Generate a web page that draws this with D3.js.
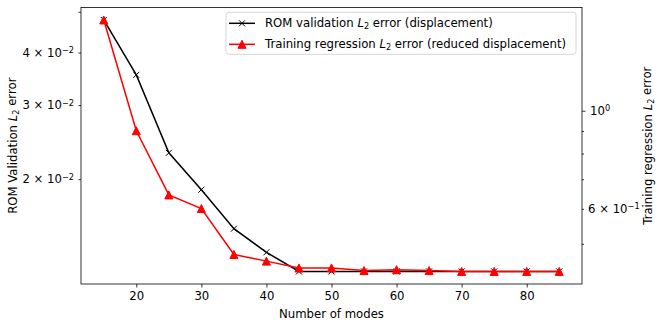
<!DOCTYPE html>
<html>
<head>
<meta charset="utf-8">
<script src="https://cdn.jsdelivr.net/npm/d3@7"></script>
<style>
  body { margin: 0; background: #fff; }
  text { font-family: "DejaVu Sans", sans-serif; fill: #000; }
</style>
</head>
<body>
<div id="chart"></div>
<script>
// Data
var modes = [15, 20, 25, 30, 35, 40, 45, 50, 55, 60, 65, 70, 75, 80, 85];
var romError = [0.0478, 0.0354, 0.0231, 0.01888, 0.01525, 0.0134, 0.01207, 0.01207, 0.01207, 0.01207, 0.01207, 0.01207, 0.01207, 0.01207, 0.01207];
var trainError = [1.604, 0.901, 0.645, 0.601, 0.473, 0.457, 0.441, 0.441, 0.435, 0.437, 0.435, 0.4331, 0.4331, 0.4331, 0.4331];

var xTicks = [20, 30, 40, 50, 60, 70, 80];
var leftTicks = [0.02, 0.03, 0.04, 0.05];
var leftLabels = [["2", "\u22122"], ["3", "\u22122"], ["4", "\u22122"], null];
var rightTicks = [0.5, 0.6, 0.7, 0.8, 0.9, 1.0];
var rightLabels = [null, ["6 \u00d7 10", "\u22121"], null, null, null, ["10", "0"]];

// SVG area
var svgWidth = 665;
var svgHeight = 329;

var margin = { top: 7.4, right: 83, bottom: 45, left: 81 };

var chartWidth = svgWidth - margin.left - margin.right;
var chartHeight = svgHeight - margin.top - margin.bottom;

var svg = d3.select("#chart")
  .append("svg")
  .attr("width", svgWidth)
  .attr("height", svgHeight);

var chartGroup = svg.append("g")
  .attr("transform", `translate(${margin.left}, ${margin.top})`);

// scales (5% padding like matplotlib autoscale)
var xPad = (d3.max(modes) - d3.min(modes)) * 0.05;
var xScale = d3.scaleLinear()
  .domain([d3.min(modes) - xPad, d3.max(modes) + xPad])
  .range([0, chartWidth]);

function logDomain(vals) {
  var lo = d3.min(vals), hi = d3.max(vals);
  var pad = Math.pow(hi / lo, 0.05);
  return [lo / pad, hi * pad];
}

var yLeft = d3.scaleLog().domain(logDomain(romError)).range([chartHeight, 0]);
var yRight = d3.scaleLog().domain(logDomain(trainError)).range([chartHeight, 0]);

var fontSize = 11.7;

// x axis
var xAxis = chartGroup.append("g")
  .attr("transform", `translate(0, ${chartHeight})`)
  .call(d3.axisBottom(xScale).tickValues(xTicks).tickSize(3.5).tickPadding(4));
xAxis.selectAll("text").style("font-size", fontSize + "px");

// left axis
var leftAxis = chartGroup.append("g")
  .call(d3.axisLeft(yLeft).tickValues(leftTicks).tickSize(2.5).tickFormat(() => ""));

leftAxis.selectAll(".tick").each(function(d, i) {
  var lab = leftLabels[i];
  if (!lab) return;
  var t = d3.select(this).append("text")
    .attr("x", -7)
    .attr("dy", "0.32em")
    .attr("text-anchor", "end")
    .style("font-size", fontSize + "px");
  t.append("tspan").text(lab[0] + " \u00d7 10");
  t.append("tspan").attr("dy", "-0.45em").style("font-size", (fontSize * 0.7) + "px").text(lab[1]);
});

// right axis
var rightAxis = chartGroup.append("g")
  .attr("transform", `translate(${chartWidth}, 0)`)
  .call(d3.axisRight(yRight).tickValues(rightTicks).tickSize(2).tickFormat(() => ""));

rightAxis.selectAll(".tick").each(function(d, i) {
  var lab = rightLabels[i];
  if (d === 1) d3.select(this).select("line").attr("x2", 3.5);
  if (!lab) return;
  var t = d3.select(this).append("text")
    .attr("x", d === 1 ? 8 : 6)
    .attr("dy", "0.32em")
    .attr("text-anchor", "start")
    .style("font-size", fontSize + "px");
  t.append("tspan").text(lab[0]);
  t.append("tspan").attr("dy", "-0.45em").style("font-size", (fontSize * 0.7) + "px").text(lab[1]);
});

svg.selectAll(".domain").remove();
svg.selectAll(".tick line").attr("stroke", "#000").attr("stroke-width", 0.8);

// frame
chartGroup.append("rect")
  .attr("width", chartWidth)
  .attr("height", chartHeight)
  .attr("fill", "none")
  .attr("stroke", "#000")
  .attr("stroke-width", 0.8);

// lines
var romLine = d3.line().x((d, i) => xScale(modes[i])).y(d => yLeft(d));
var trainLine = d3.line().x((d, i) => xScale(modes[i])).y(d => yRight(d));

chartGroup.append("path")
  .datum(romError)
  .attr("d", romLine)
  .attr("fill", "none")
  .attr("stroke", "#000")
  .attr("stroke-width", 1.5);

chartGroup.selectAll(".xmark")
  .data(romError)
  .enter()
  .append("path")
  .attr("class", "xmark")
  .attr("transform", (d, i) => `translate(${xScale(modes[i])}, ${yLeft(d)})`)
  .attr("d", "M-3,-3L3,3M-3,3L3,-3")
  .attr("stroke", "#000")
  .attr("stroke-width", 1);

chartGroup.append("path")
  .datum(trainError)
  .attr("d", trainLine)
  .attr("fill", "none")
  .attr("stroke", "red")
  .attr("stroke-width", 1.5);

var triPath = "M0,-4L4,4L-4,4Z";
chartGroup.selectAll(".tri")
  .data(trainError)
  .enter()
  .append("path")
  .attr("class", "tri")
  .attr("transform", (d, i) => `translate(${xScale(modes[i])}, ${yRight(d)})`)
  .attr("d", triPath)
  .attr("fill", "red")
  .attr("stroke", "red")
  .attr("stroke-width", 1);

// axis labels
svg.append("text")
  .attr("x", margin.left + chartWidth / 2)
  .attr("y", 318)
  .attr("text-anchor", "middle")
  .style("font-size", fontSize + "px")
  .text("Number of modes");

function labelWithL2(sel, before, after) {
  sel.append("tspan").text(before);
  sel.append("tspan").style("font-style", "italic").text("L");
  sel.append("tspan").attr("dy", "0.25em").style("font-size", (fontSize * 0.7) + "px").text("2");
  sel.append("tspan").attr("dy", "-0.25em").text(after);
}

var yMid = margin.top + chartHeight / 2;
var leftLabel = svg.append("text")
  .attr("transform", `translate(17, ${yMid}) rotate(-90)`)
  .attr("text-anchor", "middle")
  .style("font-size", fontSize + "px");
labelWithL2(leftLabel, "ROM Validation ", " error");

var rightLabel = svg.append("text")
  .attr("transform", `translate(652, ${yMid}) rotate(-90)`)
  .attr("text-anchor", "middle")
  .style("font-size", fontSize + "px");
labelWithL2(rightLabel, "Training regression ", " error");

// legend
var legend = svg.append("g").attr("transform", "translate(226, 12.3)");
legend.append("rect")
  .attr("width", 350)
  .attr("height", 42)
  .attr("rx", 3)
  .attr("fill", "#fff")
  .attr("fill-opacity", 0.8)
  .attr("stroke", "#d6d6d6")
  .attr("stroke-width", 1);

var legendItems = [
  { before: "ROM validation ", after: " error (displacement)", color: "#000", marker: "x" },
  { before: "Training regression ", after: " error (reduced displacement)", color: "red", marker: "tri" }
];

legendItems.forEach(function(item, i) {
  var row = legend.append("g").attr("transform", `translate(0, ${11 + i * 21})`);
  row.append("line")
    .attr("x1", 3).attr("x2", 29)
    .attr("stroke", item.color)
    .attr("stroke-width", 1.5);
  if (item.marker === "x") {
    row.append("path").attr("transform", "translate(16,0)")
      .attr("d", "M-3,-3L3,3M-3,3L3,-3").attr("stroke", item.color).attr("stroke-width", 1);
  } else {
    row.append("path").attr("transform", "translate(16,0)")
      .attr("d", triPath).attr("fill", item.color).attr("stroke", item.color);
  }
  var t = row.append("text")
    .attr("x", 39)
    .attr("dy", "0.35em")
    .style("font-size", fontSize + "px");
  labelWithL2(t, item.before, item.after);
});
</script>
</body>
</html>
